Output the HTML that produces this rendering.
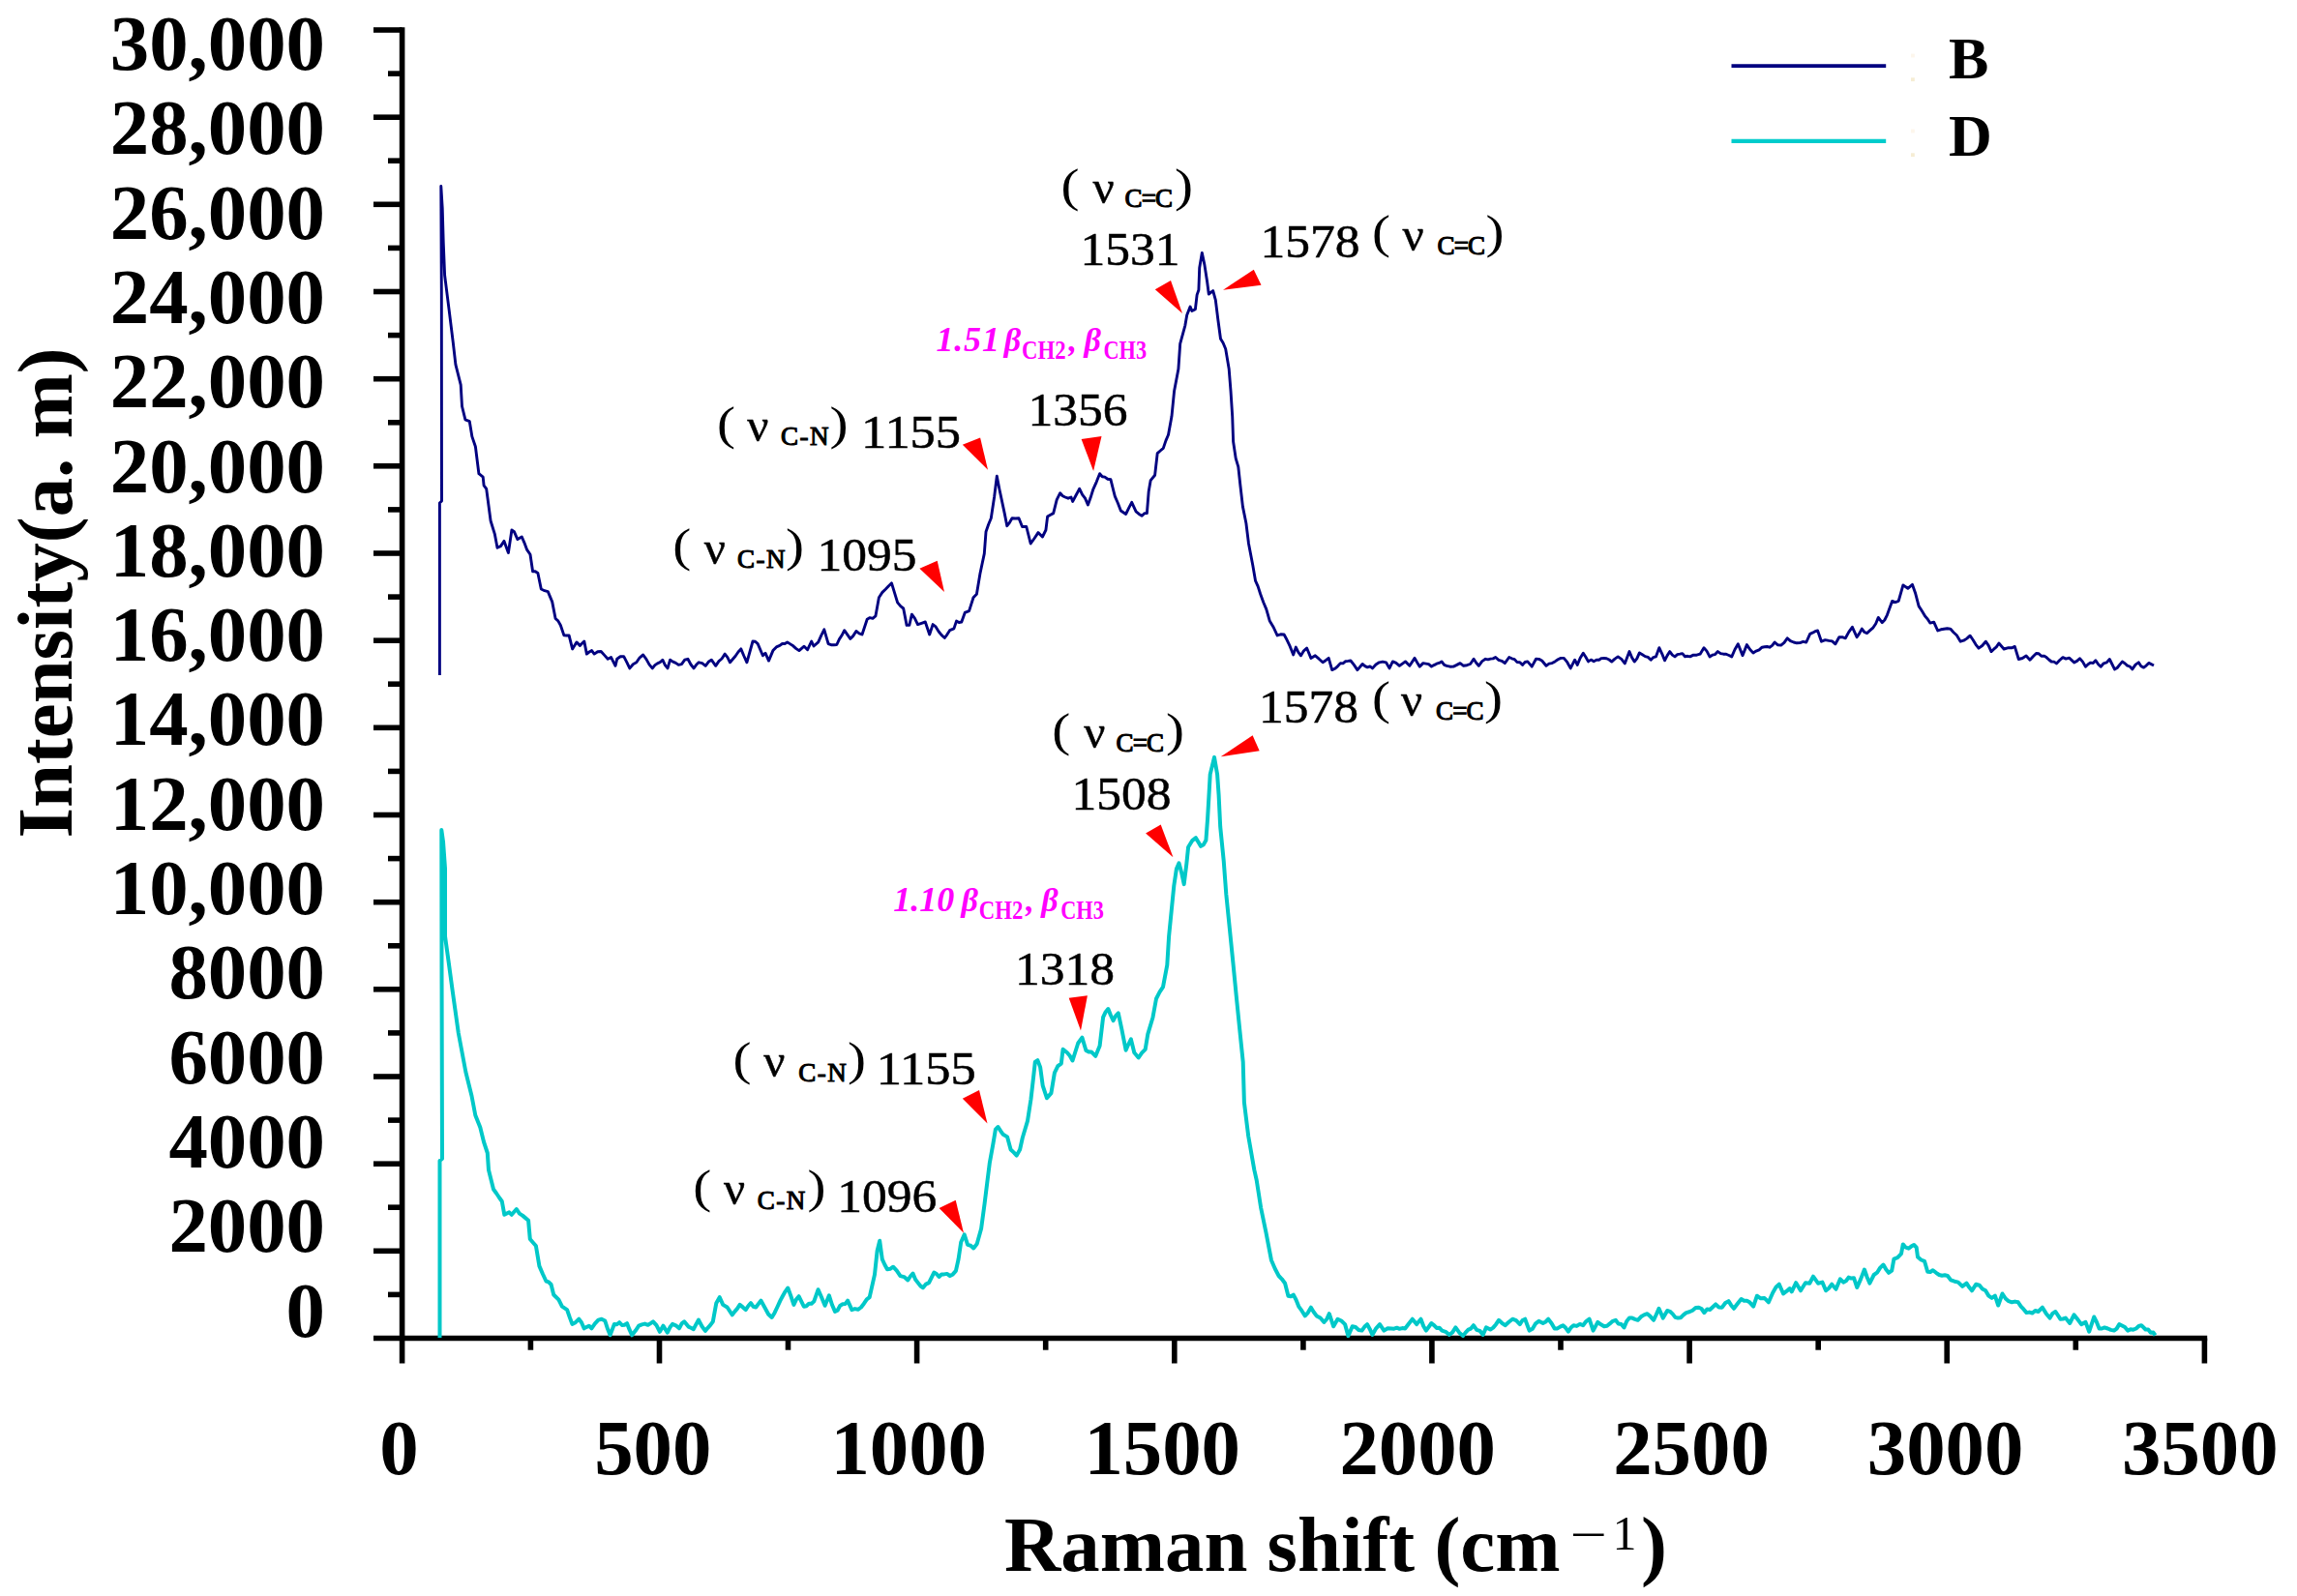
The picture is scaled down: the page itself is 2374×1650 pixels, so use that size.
<!DOCTYPE html>
<html lang="en"><head><meta charset="utf-8"><title>Raman spectra B and D</title>
<style>
html,body{margin:0;padding:0;background:#fff;}
body{width:2374px;height:1650px;overflow:hidden;}
svg{display:block;}
text{font-family:"Liberation Serif", "Times New Roman", Times, serif;fill:#000;}
.tk{font-weight:bold;font-size:80.8px;}
.an{font-size:49px;stroke:#000;stroke-width:0.5px;}
.pr{font-size:49px;}
.sub{font-size:27px;font-weight:normal;stroke:#000;stroke-width:1.1px;}
.mg{fill:#ff00ff;font-style:italic;font-weight:bold;font-size:34px;}
.mgs{fill:#ff00ff;font-style:normal;font-weight:bold;font-size:26.5px;}
.ax{stroke:#000;fill:none;}
</style></head><body>
<svg width="2374" height="1650" viewBox="0 0 2374 1650">
<rect width="2374" height="1650" fill="#fff"/>
<g class="ax" stroke-width="5.6">
<line x1="415.6" y1="28.2" x2="415.6" y2="1409.5"/>
<line x1="386" y1="1383.5" x2="2281.2" y2="1383.5"/>
<line x1="401" y1="1338.4" x2="415.6" y2="1338.4"/>
<line x1="386" y1="1293.3" x2="415.6" y2="1293.3"/>
<line x1="401" y1="1248.2" x2="415.6" y2="1248.2"/>
<line x1="386" y1="1203.2" x2="415.6" y2="1203.2"/>
<line x1="401" y1="1158.1" x2="415.6" y2="1158.1"/>
<line x1="386" y1="1113.0" x2="415.6" y2="1113.0"/>
<line x1="401" y1="1067.9" x2="415.6" y2="1067.9"/>
<line x1="386" y1="1022.8" x2="415.6" y2="1022.8"/>
<line x1="401" y1="977.8" x2="415.6" y2="977.8"/>
<line x1="386" y1="932.7" x2="415.6" y2="932.7"/>
<line x1="401" y1="887.6" x2="415.6" y2="887.6"/>
<line x1="386" y1="842.5" x2="415.6" y2="842.5"/>
<line x1="401" y1="797.4" x2="415.6" y2="797.4"/>
<line x1="386" y1="752.3" x2="415.6" y2="752.3"/>
<line x1="401" y1="707.2" x2="415.6" y2="707.2"/>
<line x1="386" y1="662.2" x2="415.6" y2="662.2"/>
<line x1="401" y1="617.1" x2="415.6" y2="617.1"/>
<line x1="386" y1="572.0" x2="415.6" y2="572.0"/>
<line x1="401" y1="526.9" x2="415.6" y2="526.9"/>
<line x1="386" y1="481.8" x2="415.6" y2="481.8"/>
<line x1="401" y1="436.8" x2="415.6" y2="436.8"/>
<line x1="386" y1="391.7" x2="415.6" y2="391.7"/>
<line x1="401" y1="346.6" x2="415.6" y2="346.6"/>
<line x1="386" y1="301.5" x2="415.6" y2="301.5"/>
<line x1="401" y1="256.4" x2="415.6" y2="256.4"/>
<line x1="386" y1="211.3" x2="415.6" y2="211.3"/>
<line x1="401" y1="166.2" x2="415.6" y2="166.2"/>
<line x1="386" y1="121.2" x2="415.6" y2="121.2"/>
<line x1="401" y1="76.1" x2="415.6" y2="76.1"/>
<line x1="386" y1="31.0" x2="415.6" y2="31.0"/>
<line x1="548.4" y1="1383.5" x2="548.4" y2="1395.7"/>
<line x1="681.5" y1="1383.5" x2="681.5" y2="1409.5"/>
<line x1="814.5" y1="1383.5" x2="814.5" y2="1395.7"/>
<line x1="947.6" y1="1383.5" x2="947.6" y2="1409.5"/>
<line x1="1080.7" y1="1383.5" x2="1080.7" y2="1395.7"/>
<line x1="1213.8" y1="1383.5" x2="1213.8" y2="1409.5"/>
<line x1="1346.9" y1="1383.5" x2="1346.9" y2="1395.7"/>
<line x1="1479.9" y1="1383.5" x2="1479.9" y2="1409.5"/>
<line x1="1613.0" y1="1383.5" x2="1613.0" y2="1395.7"/>
<line x1="1746.1" y1="1383.5" x2="1746.1" y2="1409.5"/>
<line x1="1879.2" y1="1383.5" x2="1879.2" y2="1395.7"/>
<line x1="2012.2" y1="1383.5" x2="2012.2" y2="1409.5"/>
<line x1="2145.3" y1="1383.5" x2="2145.3" y2="1395.7"/>
<line x1="2278.4" y1="1383.5" x2="2278.4" y2="1409.5"/>
</g>
<text class="tk" x="336" y="72.0" text-anchor="end">30,000</text>
<text class="tk" x="336" y="159.3" text-anchor="end">28,000</text>
<text class="tk" x="336" y="246.6" text-anchor="end">26,000</text>
<text class="tk" x="336" y="333.9" text-anchor="end">24,000</text>
<text class="tk" x="336" y="421.2" text-anchor="end">22,000</text>
<text class="tk" x="336" y="508.5" text-anchor="end">20,000</text>
<text class="tk" x="336" y="595.8" text-anchor="end">18,000</text>
<text class="tk" x="336" y="683.1" text-anchor="end">16,000</text>
<text class="tk" x="336" y="770.4" text-anchor="end">14,000</text>
<text class="tk" x="336" y="857.7" text-anchor="end">12,000</text>
<text class="tk" x="336" y="945.0" text-anchor="end">10,000</text>
<text class="tk" x="336" y="1032.3" text-anchor="end">8000</text>
<text class="tk" x="336" y="1119.6" text-anchor="end">6000</text>
<text class="tk" x="336" y="1206.9" text-anchor="end">4000</text>
<text class="tk" x="336" y="1294.2" text-anchor="end">2000</text>
<text class="tk" x="336" y="1381.5" text-anchor="end">0</text>
<text class="tk" x="412.4" y="1523.8" text-anchor="middle">0</text>
<text class="tk" x="674.8" y="1523.8" text-anchor="middle">500</text>
<text class="tk" x="939.2" y="1523.8" text-anchor="middle">1000</text>
<text class="tk" x="1201.2" y="1523.8" text-anchor="middle">1500</text>
<text class="tk" x="1465.2" y="1523.8" text-anchor="middle">2000</text>
<text class="tk" x="1748.0" y="1523.8" text-anchor="middle">2500</text>
<text class="tk" x="2010.6" y="1523.8" text-anchor="middle">3000</text>
<text class="tk" x="2273.8" y="1523.8" text-anchor="middle">3500</text>
<text class="tk" transform="translate(74,866.5) rotate(-90)" x="0" y="0">Intensity(a. m)</text>
<text class="tk" x="1038" y="1624.3">Raman shift (cm<tspan font-weight="normal" font-size="49" x="1622.7" y="1602.9" textLength="38.4" lengthAdjust="spacingAndGlyphs">−</tspan><tspan font-weight="normal" font-size="50" x="1666.5" y="1601.5">1</tspan><tspan x="1696" y="1624.3">)</tspan></text>
<line x1="1789.5" y1="68.2" x2="1949.2" y2="68.2" stroke="#000080" stroke-width="3.8"/>
<line x1="1789.5" y1="145.9" x2="1949.2" y2="145.9" stroke="#00cccc" stroke-width="4.2"/>
<text x="2014" y="81.3" font-weight="bold" font-size="62">B</text>
<text x="2014" y="161.4" font-weight="bold" font-size="62">D</text>
<rect x="1975" y="80.3" width="3.8" height="3.8" fill="#f6edd4"/>
<rect x="1975" y="158.3" width="3.8" height="3.8" fill="#f6edd4"/>
<rect x="1975" y="55.6" width="3.8" height="3.8" fill="#fdf6ec"/>
<rect x="1975" y="133.6" width="3.8" height="3.8" fill="#fdf6ec"/>
<path d="M454.4,698.0 L454.4,520.0 L456.5,518.0 L456.3,300.0 L455.8,192.5 L457.2,215.0 L458.2,250.0 L459.6,284.5 L464.0,319.4 L468.3,354.2 L470.9,376.9 L476.2,397.8 L477.5,420.0 L480.9,433.9 L485.3,435.7 L487.9,451.4 L491.4,461.8 L494.9,489.7 L499.2,493.2 L500.1,501.9 L502.7,505.4 L507.1,538.5 L511.4,552.4 L514.0,566.3 L517.5,564.6 L521.0,559.4 L525.4,571.6 L528.9,548.0 L531.5,549.8 L534.9,557.6 L539.3,555.0 L541.9,561.1 L544.5,568.1 L548.0,573.3 L550.6,590.7 L553.2,590.7 L555.9,592.5 L559.3,609.0 L562.8,610.7 L566.3,611.6 L570.7,622.1 L574.1,639.5 L576.8,641.9 L579.4,646.5 L582.9,656.9 L585.5,657.0 L588.1,656.9 L591.6,670.9 L595.9,663.9 L599.4,667.4 L603.8,663.0 L606.4,676.1 L609.0,674.0 L611.6,672.6 L614.2,676.1 L617.7,673.7 L621.2,673.5 L624.7,677.4 L628.2,681.3 L631.6,679.6 L636.0,688.3 L637.7,681.3 L641.2,678.8 L644.7,678.7 L647.8,684.6 L650.8,690.9 L654.3,686.7 L657.8,684.8 L661.2,679.8 L664.7,677.0 L667.9,681.4 L671.1,687.1 L674.3,690.9 L676.9,687.7 L679.5,685.8 L682.2,684.7 L684.8,682.2 L687.4,687.7 L690.0,690.9 L692.6,682.2 L695.5,684.1 L698.4,685.4 L701.3,687.4 L704.5,686.6 L707.7,682.2 L710.9,681.3 L714.0,687.0 L717.0,690.9 L719.6,687.3 L722.2,684.8 L725.7,685.6 L729.2,688.3 L732.2,684.3 L735.3,682.2 L739.7,688.3 L742.9,683.7 L746.0,681.0 L749.2,676.1 L751.9,679.6 L754.5,684.8 L757.3,681.5 L760.1,678.2 L763.0,674.0 L765.8,670.9 L768.8,678.0 L771.9,684.8 L778.0,663.0 L780.6,663.2 L783.2,665.6 L788.4,677.8 L791.0,675.2 L794.5,683.1 L798.9,672.6 L802.4,668.9 L805.9,667.4 L808.5,665.5 L811.1,665.5 L813.7,663.9 L816.8,665.9 L819.8,667.8 L822.9,670.6 L825.9,672.6 L828.5,670.3 L831.1,668.2 L834.6,671.7 L838.7,663.0 L841.0,668.0 L845.7,663.9 L848.8,656.8 L851.8,650.8 L856.1,665.6 L859.0,666.7 L861.9,666.7 L864.8,666.5 L867.4,660.9 L870.1,656.8 L872.7,651.7 L875.8,656.1 L878.8,660.4 L881.8,657.4 L884.9,652.5 L888.0,654.8 L891.0,656.0 L896.2,640.3 L899.1,638.6 L902.0,639.3 L904.9,636.9 L908.4,617.7 L911.9,612.4 L915.4,609.0 L918.5,605.7 L921.5,602.9 L927.6,622.9 L930.7,626.6 L933.7,629.0 L937.1,646.4 L939.8,646.4 L942.4,635.1 L945.5,639.4 L948.5,645.6 L952.4,644.3 L956.3,643.0 L960.7,656.0 L964.1,645.6 L967.1,647.9 L970.2,653.0 L973.2,656.7 L976.3,659.5 L979.0,655.8 L981.6,651.7 L985.9,649.9 L988.5,642.1 L991.1,643.5 L993.8,643.0 L997.2,633.4 L1001.6,631.6 L1006.0,617.7 L1009.4,614.2 L1012.9,593.3 L1017.3,572.4 L1019.0,549.8 L1021.6,542.3 L1024.3,535.8 L1027.7,513.2 L1030.3,492.3 L1033.0,506.2 L1038.2,530.6 L1040.8,543.7 L1043.4,540.3 L1046.0,535.8 L1049.5,536.0 L1053.0,535.8 L1056.5,544.5 L1060.8,544.5 L1065.2,562.0 L1069.1,556.5 L1073.0,550.6 L1077.4,555.0 L1080.9,548.0 L1082.6,534.1 L1085.7,532.2 L1088.7,530.6 L1092.2,516.7 L1095.7,509.7 L1098.3,512.7 L1100.9,514.0 L1104.0,515.2 L1107.0,514.0 L1108.7,518.4 L1112.2,511.8 L1115.7,505.3 L1118.6,511.3 L1121.5,515.2 L1124.4,521.9 L1127.1,514.6 L1129.7,506.2 L1133.2,498.3 L1136.6,489.7 L1139.2,492.7 L1141.8,493.1 L1144.8,495.2 L1147.9,495.7 L1152.3,513.2 L1155.3,520.0 L1158.4,528.0 L1163.6,531.5 L1166.7,525.1 L1169.7,519.3 L1174.1,528.8 L1177.2,531.4 L1180.2,533.2 L1182.8,530.7 L1185.4,530.6 L1187.2,508.0 L1189.2,496.6 L1193.6,491.3 L1196.2,468.7 L1199.2,466.0 L1202.3,463.4 L1204.9,455.6 L1207.5,449.5 L1211.0,430.3 L1213.6,404.2 L1217.9,381.6 L1219.7,355.4 L1224.9,336.3 L1226.7,325.8 L1230.1,317.1 L1231.9,321.5 L1235.4,319.7 L1237.1,304.9 L1238.9,299.7 L1239.7,277.0 L1242.3,261.4 L1244.9,273.6 L1247.6,291.0 L1249.3,304.0 L1253.7,300.6 L1256.3,310.1 L1258.9,331.0 L1261.5,350.2 L1264.1,354.5 L1266.7,360.7 L1270.2,381.6 L1272.0,404.2 L1273.7,430.3 L1274.6,456.5 L1277.2,473.9 L1279.8,482.6 L1281.8,501.0 L1284.4,523.6 L1287.9,541.0 L1290.5,562.0 L1294.8,584.6 L1297.5,600.3 L1300.1,606.1 L1302.7,614.2 L1305.8,622.7 L1308.8,629.9 L1312.3,642.1 L1316.2,648.5 L1320.1,656.9 L1323.6,655.8 L1327.1,656.0 L1330.2,661.8 L1333.2,668.2 L1336.7,676.9 L1339.3,669.1 L1341.9,674.4 L1344.5,677.8 L1347.5,672.8 L1350.6,670.0 L1354.9,680.4 L1359.3,677.8 L1363.2,681.2 L1367.1,684.8 L1370.2,682.7 L1373.2,680.4 L1376.7,692.6 L1379.6,691.3 L1382.5,688.8 L1385.4,685.6 L1388.0,685.9 L1390.7,683.7 L1393.3,683.4 L1395.9,683.0 L1399.4,687.4 L1402.9,692.6 L1408.1,686.5 L1410.7,688.6 L1413.3,689.9 L1415.9,688.9 L1418.5,690.9 L1422.0,687.0 L1425.5,684.8 L1429.0,684.1 L1432.5,684.8 L1436.0,690.9 L1439.4,683.9 L1442.9,685.4 L1446.4,688.3 L1449.5,686.1 L1452.5,683.9 L1456.9,688.3 L1462.1,680.4 L1464.7,685.0 L1467.3,689.1 L1470.8,685.6 L1473.7,686.1 L1476.6,686.6 L1479.5,689.1 L1482.1,687.6 L1484.8,686.2 L1487.4,685.4 L1490.0,683.9 L1492.6,687.3 L1495.2,688.3 L1498.7,689.2 L1502.2,689.1 L1505.7,687.4 L1509.1,685.6 L1512.6,688.3 L1516.1,687.7 L1519.6,686.5 L1523.1,681.3 L1525.7,685.3 L1528.3,688.3 L1531.8,683.6 L1535.3,681.3 L1537.9,681.9 L1540.5,681.1 L1543.1,680.9 L1545.7,679.5 L1548.9,682.3 L1552.1,683.3 L1555.3,685.6 L1559.7,679.5 L1562.5,680.8 L1565.3,681.6 L1568.0,684.6 L1570.8,684.7 L1573.6,687.4 L1576.2,684.5 L1578.8,683.9 L1583.2,689.1 L1587.5,681.3 L1590.5,681.4 L1593.6,683.0 L1598.0,688.3 L1601.0,686.1 L1604.1,685.6 L1607.1,683.9 L1610.2,681.8 L1613.2,680.4 L1616.3,680.4 L1619.8,684.7 L1623.2,690.9 L1627.6,682.2 L1630.2,687.4 L1633.2,680.3 L1636.3,675.2 L1638.9,679.2 L1641.5,683.9 L1644.3,682.1 L1647.2,683.8 L1650.0,682.3 L1652.6,682.2 L1655.2,680.6 L1657.8,680.5 L1660.4,680.7 L1663.1,682.0 L1665.7,684.1 L1669.0,681.1 L1672.2,678.9 L1675.8,681.4 L1679.3,685.9 L1684.0,673.6 L1686.6,679.8 L1689.2,684.1 L1691.8,680.8 L1694.4,674.9 L1697.4,676.7 L1700.3,678.6 L1703.2,679.4 L1706.2,682.3 L1708.8,679.6 L1711.4,678.9 L1714.8,669.7 L1717.7,675.8 L1720.5,682.8 L1723.2,677.6 L1725.8,673.6 L1728.4,677.1 L1731.0,678.9 L1733.6,676.7 L1736.2,676.2 L1738.8,675.6 L1741.5,678.7 L1744.1,678.3 L1746.7,678.9 L1750.2,677.1 L1753.6,677.2 L1757.1,676.2 L1761.0,669.7 L1764.0,673.1 L1767.0,678.9 L1769.8,677.2 L1772.6,676.6 L1775.4,673.6 L1778.3,675.6 L1781.2,676.2 L1784.0,676.2 L1786.9,677.5 L1789.8,678.9 L1793.0,671.5 L1796.3,665.8 L1801.0,677.6 L1805.4,666.6 L1808.7,671.5 L1812.0,674.9 L1815.0,673.1 L1818.1,671.8 L1821.1,669.2 L1823.7,668.8 L1826.3,668.5 L1828.9,669.2 L1831.6,667.4 L1834.2,664.0 L1837.5,666.8 L1840.7,667.1 L1844.0,664.4 L1847.2,659.8 L1850.5,662.7 L1853.8,664.0 L1857.0,664.8 L1860.3,664.6 L1863.5,663.3 L1866.8,664.0 L1870.7,655.3 L1873.3,654.2 L1876.0,652.7 L1878.6,652.0 L1882.5,663.2 L1886.4,661.6 L1890.3,662.4 L1893.6,662.9 L1896.9,665.8 L1900.8,658.7 L1904.0,658.7 L1907.3,659.8 L1910.8,653.4 L1914.4,648.3 L1919.1,658.7 L1921.7,654.9 L1924.3,650.1 L1926.9,653.5 L1929.5,654.6 L1932.8,651.6 L1936.0,648.8 L1938.7,644.7 L1941.3,638.4 L1945.2,643.6 L1947.8,641.0 L1950.4,635.8 L1955.6,621.4 L1958.9,622.6 L1962.2,621.4 L1966.9,604.9 L1971.8,608.3 L1976.5,604.4 L1979.7,613.6 L1983.1,626.6 L1986.3,631.5 L1989.6,637.1 L1992.2,639.9 L1994.8,644.1 L1998.7,643.1 L2002.7,652.0 L2006.0,650.8 L2009.2,650.3 L2012.5,649.8 L2015.7,650.1 L2019.0,653.7 L2022.3,656.7 L2026.2,663.2 L2029.5,662.2 L2032.8,660.1 L2036.1,657.2 L2039.1,661.5 L2042.0,666.3 L2045.0,670.2 L2048.7,667.5 L2052.3,663.2 L2055.2,667.3 L2058.0,673.6 L2060.6,671.2 L2063.3,668.9 L2065.9,665.0 L2071.1,671.0 L2075.8,669.7 L2079.1,669.8 L2082.3,668.4 L2086.3,681.5 L2090.2,680.5 L2094.1,678.1 L2098.0,682.3 L2101.2,678.8 L2104.5,675.5 L2107.1,675.7 L2109.8,678.3 L2112.4,678.1 L2115.0,679.6 L2117.6,682.0 L2120.2,684.0 L2122.8,684.1 L2125.4,685.9 L2128.7,682.5 L2132.0,679.6 L2135.2,681.1 L2138.5,680.2 L2143.7,684.9 L2146.6,683.4 L2149.5,680.7 L2152.5,684.1 L2155.5,689.3 L2158.1,686.7 L2160.7,685.1 L2163.3,685.5 L2165.9,682.8 L2168.6,686.8 L2171.2,689.3 L2174.2,685.8 L2177.3,684.9 L2180.3,681.5 L2185.5,691.9 L2188.1,690.5 L2190.8,687.1 L2193.4,684.1 L2196.0,685.7 L2198.6,688.1 L2201.2,689.0 L2203.8,691.9 L2207.1,687.1 L2210.3,684.9 L2212.9,688.7 L2215.6,690.1 L2218.2,688.1 L2220.8,685.4 L2226.0,688.0" fill="none" stroke="#000080" stroke-width="2.9" stroke-linejoin="round" stroke-linecap="butt"/>
<path d="M454.5,1383.0 L454.5,1200.0 L457.0,1198.0 L456.5,1000.0 L456.3,858.0 L458.0,870.0 L460.0,898.0 L460.0,968.0 L463.8,995.5 L467.5,1023.0 L473.8,1068.0 L481.3,1108.0 L487.5,1133.0 L491.3,1153.0 L496.3,1165.5 L500.0,1180.5 L503.8,1192.0 L505.0,1209.5 L510.0,1229.5 L512.9,1233.5 L515.9,1238.0 L518.8,1242.0 L521.3,1255.8 L526.3,1253.3 L528.8,1255.8 L533.8,1250.0 L536.9,1254.6 L540.0,1256.6 L543.0,1259.1 L546.1,1261.8 L547.8,1281.0 L550.8,1284.5 L553.9,1288.0 L557.4,1308.9 L560.9,1317.0 L564.4,1324.5 L567.0,1325.3 L569.6,1328.0 L572.2,1338.5 L577.4,1343.7 L580.9,1350.7 L583.5,1352.4 L586.1,1354.1 L588.8,1361.9 L591.4,1368.9 L594.8,1367.2 L598.3,1363.7 L601.0,1367.3 L603.6,1373.3 L608.8,1370.7 L611.4,1373.3 L614.9,1368.4 L618.4,1364.6 L621.8,1363.8 L625.3,1365.5 L628.0,1373.8 L630.6,1380.3 L634.9,1368.9 L637.5,1369.3 L640.1,1367.2 L642.8,1369.9 L645.4,1369.7 L648.0,1368.1 L650.6,1374.7 L653.2,1380.3 L656.7,1375.8 L660.2,1370.7 L663.4,1369.4 L666.5,1368.6 L669.7,1369.8 L672.4,1368.1 L675.0,1366.3 L678.5,1370.2 L681.9,1376.8 L685.4,1370.7 L689.8,1377.6 L692.4,1372.3 L695.0,1368.9 L698.5,1370.3 L702.0,1373.3 L704.6,1368.4 L707.2,1366.3 L711.5,1371.6 L714.1,1372.8 L716.8,1374.2 L719.4,1369.2 L722.0,1364.6 L725.5,1371.3 L728.9,1375.9 L731.5,1372.8 L734.2,1369.9 L736.8,1366.3 L740.3,1347.2 L743.7,1341.1 L747.2,1348.9 L751.6,1351.5 L756.8,1359.4 L759.4,1355.9 L762.0,1352.9 L764.6,1348.9 L767.7,1351.4 L770.7,1354.1 L773.4,1350.0 L776.0,1347.2 L778.6,1350.8 L781.2,1351.5 L786.4,1344.6 L790.8,1352.4 L794.2,1358.7 L797.7,1362.0 L800.6,1357.2 L803.5,1351.0 L806.4,1344.6 L809.0,1339.7 L811.7,1335.1 L814.3,1331.5 L817.3,1339.6 L820.4,1348.9 L823.0,1343.3 L825.6,1340.2 L830.8,1350.7 L833.4,1350.2 L836.0,1347.8 L838.7,1347.8 L841.3,1345.4 L845.6,1333.2 L849.1,1341.2 L852.6,1349.8 L856.9,1339.3 L860.0,1349.0 L863.0,1355.9 L865.6,1354.7 L868.2,1349.9 L870.9,1348.2 L873.5,1348.1 L876.1,1344.6 L880.4,1354.1 L883.6,1353.1 L886.8,1353.8 L890.0,1351.5 L892.9,1347.7 L895.8,1343.3 L898.7,1341.1 L904.0,1317.6 L906.6,1293.2 L909.2,1282.7 L911.8,1301.9 L914.4,1307.5 L917.0,1312.3 L920.0,1311.8 L923.1,1309.7 L926.8,1313.7 L930.5,1319.1 L934.4,1320.1 L938.3,1323.5 L940.9,1319.5 L943.5,1316.5 L946.1,1322.7 L948.7,1326.1 L951.4,1329.5 L954.0,1331.3 L957.0,1327.6 L960.1,1326.1 L965.3,1315.6 L967.9,1317.0 L970.5,1320.0 L973.1,1317.5 L975.7,1317.4 L978.8,1316.9 L981.8,1319.1 L984.8,1317.4 L987.9,1313.9 L990.6,1301.7 L993.2,1284.3 L996.7,1276.4 L1000.1,1286.9 L1003.2,1287.7 L1006.2,1290.4 L1009.7,1286.0 L1014.1,1270.3 L1017.6,1244.2 L1020.2,1223.3 L1022.8,1202.4 L1026.3,1183.2 L1028.9,1167.6 L1031.5,1165.0 L1034.1,1169.1 L1036.7,1172.8 L1041.1,1175.4 L1044.6,1188.5 L1047.7,1191.4 L1050.7,1194.6 L1054.1,1188.5 L1056.8,1176.3 L1062.0,1158.9 L1065.5,1136.2 L1068.1,1113.6 L1069.8,1097.9 L1072.4,1096.1 L1075.1,1103.1 L1077.7,1122.3 L1082.0,1135.3 L1086.4,1130.1 L1089.9,1109.2 L1093.3,1102.2 L1096.8,1099.6 L1098.6,1084.8 L1102.9,1088.3 L1105.7,1091.5 L1108.5,1096.5 L1114.2,1078.5 L1118.4,1072.6 L1122.4,1086.0 L1125.2,1087.4 L1127.9,1087.4 L1132.3,1091.8 L1136.6,1081.3 L1140.1,1051.7 L1142.7,1046.2 L1145.3,1043.0 L1147.9,1049.5 L1150.6,1055.2 L1153.2,1050.1 L1155.8,1047.4 L1159.3,1063.9 L1163.6,1085.7 L1166.2,1079.8 L1168.9,1074.4 L1172.3,1088.3 L1176.7,1093.5 L1180.2,1088.3 L1183.7,1084.8 L1186.3,1069.1 L1191.5,1051.7 L1195.0,1032.5 L1198.5,1025.7 L1202.0,1020.3 L1206.3,997.7 L1208.1,968.1 L1210.7,941.9 L1213.3,915.8 L1215.9,898.4 L1218.5,892.3 L1221.1,901.9 L1223.7,914.1 L1226.3,893.2 L1228.1,875.7 L1232.4,868.8 L1235.9,866.2 L1241.1,874.9 L1243.8,873.3 L1246.4,868.8 L1248.1,846.1 L1249.5,821.9 L1250.7,800.6 L1255.0,782.9 L1258.1,800.6 L1259.6,821.9 L1261.2,854.8 L1264.7,889.7 L1267.3,924.5 L1270.8,959.4 L1274.3,994.2 L1277.7,1029.1 L1281.2,1063.9 L1284.7,1098.0 L1285.9,1139.7 L1290.2,1174.5 L1296.3,1209.4 L1298.7,1220.0 L1303.1,1248.3 L1308.5,1274.4 L1313.9,1302.7 L1317.8,1311.8 L1321.6,1319.0 L1324.8,1322.3 L1328.1,1326.7 L1331.4,1339.7 L1334.1,1340.3 L1336.8,1338.6 L1339.5,1343.7 L1342.2,1350.6 L1345.5,1355.2 L1348.8,1360.4 L1351.8,1357.1 L1354.9,1351.7 L1357.8,1356.5 L1360.7,1360.4 L1364.6,1362.5 L1368.4,1366.9 L1371.1,1364.0 L1373.8,1358.2 L1378.2,1371.3 L1382.5,1363.7 L1386.3,1365.5 L1390.1,1369.1 L1393.4,1381.1 L1397.7,1371.3 L1401.0,1372.0 L1404.2,1375.0 L1407.5,1375.6 L1410.2,1371.8 L1413.0,1369.1 L1415.7,1373.9 L1418.4,1380.0 L1422.2,1373.3 L1426.0,1369.1 L1430.4,1375.6 L1434.2,1373.3 L1438.0,1373.5 L1440.8,1373.7 L1443.7,1372.7 L1446.5,1373.8 L1449.4,1373.1 L1452.2,1373.5 L1456.0,1368.5 L1459.8,1363.7 L1464.1,1369.1 L1468.5,1363.7 L1471.2,1371.0 L1473.9,1375.6 L1476.7,1371.8 L1479.4,1368.0 L1482.1,1370.1 L1484.8,1372.9 L1487.6,1372.7 L1490.3,1375.6 L1494.1,1376.8 L1497.9,1380.0 L1501.2,1377.4 L1504.4,1372.4 L1508.2,1377.7 L1512.0,1381.1 L1514.7,1377.6 L1517.5,1374.7 L1520.2,1373.6 L1522.9,1370.2 L1526.2,1374.8 L1529.4,1375.8 L1532.7,1380.0 L1536.0,1372.4 L1540.3,1374.5 L1543.2,1372.6 L1546.1,1369.2 L1549.0,1364.8 L1552.3,1367.8 L1555.6,1370.2 L1559.4,1366.7 L1563.2,1363.7 L1567.0,1365.2 L1570.8,1369.1 L1573.5,1365.0 L1576.2,1363.7 L1580.6,1375.6 L1583.9,1373.7 L1587.1,1368.3 L1590.4,1365.8 L1594.7,1368.0 L1597.5,1366.5 L1600.2,1363.7 L1603.5,1367.9 L1606.7,1373.5 L1609.6,1373.4 L1612.5,1371.6 L1615.4,1370.2 L1618.2,1372.8 L1620.9,1376.7 L1623.6,1372.5 L1626.3,1370.2 L1629.6,1370.9 L1632.8,1368.9 L1636.1,1370.2 L1639.3,1366.1 L1642.6,1363.7 L1646.6,1375.6 L1651.3,1366.9 L1654.6,1369.3 L1657.9,1371.3 L1660.9,1370.7 L1663.8,1368.4 L1666.8,1365.8 L1669.8,1364.8 L1672.7,1368.6 L1675.6,1369.0 L1678.5,1372.4 L1681.2,1366.0 L1684.0,1362.6 L1686.9,1362.6 L1689.8,1363.9 L1692.7,1364.8 L1696.0,1361.3 L1699.2,1359.4 L1702.5,1358.2 L1705.8,1361.1 L1709.0,1364.8 L1711.8,1359.0 L1714.5,1352.8 L1718.8,1362.6 L1723.2,1355.0 L1725.9,1355.8 L1728.7,1358.4 L1731.4,1361.9 L1734.1,1362.6 L1737.0,1362.2 L1739.9,1359.4 L1742.8,1357.1 L1746.0,1356.3 L1749.3,1354.7 L1752.5,1352.0 L1755.8,1351.7 L1758.5,1353.0 L1761.3,1357.1 L1764.3,1353.5 L1767.2,1354.0 L1770.2,1351.2 L1773.2,1348.4 L1776.5,1351.4 L1779.8,1351.7 L1783.2,1347.0 L1786.5,1345.2 L1789.2,1349.4 L1792.0,1352.8 L1795.8,1347.8 L1799.6,1343.0 L1802.5,1344.8 L1805.4,1344.7 L1808.3,1346.3 L1812.2,1350.6 L1815.9,1339.7 L1819.7,1342.3 L1823.5,1341.9 L1827.9,1346.3 L1832.2,1336.5 L1835.5,1330.8 L1838.8,1327.7 L1843.1,1337.5 L1846.4,1334.9 L1849.7,1332.1 L1851.8,1335.4 L1856.2,1326.2 L1861.0,1334.3 L1866.0,1326.2 L1870.3,1326.7 L1874.0,1319.7 L1879.0,1326.7 L1883.4,1325.6 L1887.1,1334.3 L1890.2,1331.7 L1893.2,1327.7 L1897.5,1332.8 L1901.9,1322.3 L1905.2,1325.6 L1907.9,1324.3 L1910.6,1320.6 L1913.3,1321.6 L1916.0,1321.2 L1919.3,1331.0 L1923.1,1322.4 L1926.9,1312.5 L1929.7,1320.5 L1932.4,1326.7 L1936.7,1318.0 L1940.0,1315.7 L1943.2,1310.6 L1946.5,1307.5 L1949.2,1312.2 L1952.0,1315.8 L1955.2,1313.6 L1957.4,1301.6 L1961.2,1300.1 L1965.0,1296.2 L1966.8,1286.4 L1969.7,1289.7 L1972.6,1290.7 L1975.3,1288.6 L1978.1,1287.0 L1980.7,1289.7 L1982.0,1299.5 L1985.5,1302.5 L1989.0,1303.8 L1992.2,1314.7 L1995.0,1315.0 L1997.7,1313.2 L2001.0,1315.8 L2004.2,1318.0 L2007.1,1318.7 L2010.0,1318.3 L2012.9,1319.0 L2016.2,1323.4 L2020.0,1324.7 L2023.8,1325.6 L2028.2,1329.9 L2032.5,1326.7 L2035.2,1330.8 L2038.0,1334.3 L2042.3,1327.7 L2045.6,1328.6 L2048.8,1332.5 L2052.1,1334.3 L2055.3,1339.6 L2058.6,1341.9 L2061.9,1339.7 L2065.2,1349.5 L2069.5,1337.5 L2072.8,1342.5 L2076.0,1345.2 L2079.3,1346.3 L2082.5,1345.6 L2085.8,1346.3 L2088.7,1350.6 L2091.6,1353.7 L2094.5,1357.1 L2097.5,1356.6 L2100.5,1357.6 L2103.5,1355.0 L2106.5,1356.0 L2110.9,1351.7 L2114.7,1357.9 L2118.5,1362.6 L2121.4,1357.9 L2124.4,1356.0 L2129.4,1363.7 L2132.1,1363.5 L2134.8,1362.6 L2139.2,1368.0 L2143.5,1359.3 L2147.3,1364.1 L2151.1,1369.1 L2155.5,1366.9 L2159.2,1376.7 L2164.2,1361.5 L2166.9,1366.7 L2169.6,1373.5 L2172.3,1373.5 L2175.1,1372.4 L2178.4,1373.5 L2181.6,1374.9 L2184.9,1375.6 L2187.6,1373.6 L2190.3,1369.1 L2193.2,1370.5 L2196.1,1372.0 L2199.0,1375.6 L2201.9,1374.3 L2204.8,1374.7 L2207.7,1373.5 L2210.4,1371.0 L2213.2,1370.2 L2217.5,1374.5 L2220.2,1374.5 L2222.8,1377.8 L2225.5,1377.6 L2227.5,1380.5" fill="none" stroke="#00c8c8" stroke-width="4.0" stroke-linejoin="round" stroke-linecap="butt"/>
<polygon points="994.8,459.7 1013.1,452.6 1021.0,485.8" fill="#ff0000"/>
<polygon points="1117.6,453.9 1138.5,451.1 1130.1,487.1" fill="#ff0000"/>
<polygon points="950.4,587.7 968.7,579.8 976.0,612.0" fill="#ff0000"/>
<polygon points="1193.8,299.2 1210.0,290.1 1222.0,324.0" fill="#ff0000"/>
<polygon points="1264.1,299.8 1295.8,278.7 1303.5,294.8" fill="#ff0000"/>
<polygon points="1261.7,782.3 1294.6,760.3 1301.7,776.2" fill="#ff0000"/>
<polygon points="1184.1,861.6 1199.7,852.6 1212.4,886.3" fill="#ff0000"/>
<polygon points="1104.7,1031.8 1123.9,1029.2 1117.0,1065.4" fill="#ff0000"/>
<polygon points="994.8,1135.8 1012.0,1127.0 1020.5,1161.4" fill="#ff0000"/>
<polygon points="970.6,1249.0 987.7,1240.8 996.0,1274.7" fill="#ff0000"/>
<text class="pr" x="741.0" y="453.5" textLength="19" lengthAdjust="spacingAndGlyphs">(</text>
<text class="an" x="772.2" y="455.7" font-size="42" stroke-width="1.6">ν</text>
<text class="sub" x="807.0" y="460.0" textLength="49.5" lengthAdjust="spacing">C-N</text>
<text class="pr" x="857.6" y="453.5" textLength="19" lengthAdjust="spacingAndGlyphs">)</text>
<text class="an" x="890.1" y="463.0" textLength="103" lengthAdjust="spacingAndGlyphs">1155</text>
<text class="an" x="1062.6" y="440.0" textLength="103" lengthAdjust="spacingAndGlyphs">1356</text>
<text class="pr" x="695.3" y="580.3" textLength="19" lengthAdjust="spacingAndGlyphs">(</text>
<text class="an" x="727.8" y="582.5" font-size="42" stroke-width="1.6">ν</text>
<text class="sub" x="761.9" y="586.8" textLength="49.5" lengthAdjust="spacing">C-N</text>
<text class="pr" x="811.9" y="580.3" textLength="19" lengthAdjust="spacingAndGlyphs">)</text>
<text class="an" x="844.4" y="589.8" textLength="103" lengthAdjust="spacingAndGlyphs">1095</text>
<text class="pr" x="1096.4" y="207.5" textLength="19" lengthAdjust="spacingAndGlyphs">(</text>
<text class="an" x="1129.5" y="209.7" font-size="42" stroke-width="1.6">ν</text>
<text class="sub" x="1162.6" y="214.0" textLength="49.5" lengthAdjust="spacing">C=C</text>
<text class="pr" x="1214.0" y="207.5" textLength="19" lengthAdjust="spacingAndGlyphs">)</text>
<text class="an" x="1116.6" y="274.3" textLength="103" lengthAdjust="spacingAndGlyphs">1531</text>
<text class="an" x="1302.5" y="265.8" textLength="103" lengthAdjust="spacingAndGlyphs">1578</text>
<text class="pr" x="1417.9" y="256.3" textLength="19" lengthAdjust="spacingAndGlyphs">(</text>
<text class="an" x="1449.5" y="258.5" font-size="42" stroke-width="1.6">ν</text>
<text class="sub" x="1485.6" y="262.8" textLength="49.5" lengthAdjust="spacing">C=C</text>
<text class="pr" x="1535.5" y="256.3" textLength="19" lengthAdjust="spacingAndGlyphs">)</text>
<text class="an" x="1301.0" y="747.2" textLength="103" lengthAdjust="spacingAndGlyphs">1578</text>
<text class="pr" x="1417.9" y="737.7" textLength="19" lengthAdjust="spacingAndGlyphs">(</text>
<text class="an" x="1447.9" y="739.9" font-size="42" stroke-width="1.6">ν</text>
<text class="sub" x="1484.1" y="744.2" textLength="49.5" lengthAdjust="spacing">C=C</text>
<text class="pr" x="1534.0" y="737.7" textLength="19" lengthAdjust="spacingAndGlyphs">)</text>
<text class="pr" x="1087.2" y="770.5" textLength="19" lengthAdjust="spacingAndGlyphs">(</text>
<text class="an" x="1120.3" y="772.7" font-size="42" stroke-width="1.6">ν</text>
<text class="sub" x="1153.5" y="777.0" textLength="49.5" lengthAdjust="spacing">C=C</text>
<text class="pr" x="1204.9" y="770.5" textLength="19" lengthAdjust="spacingAndGlyphs">)</text>
<text class="an" x="1107.5" y="836.5" textLength="103" lengthAdjust="spacingAndGlyphs">1508</text>
<text class="an" x="1049.0" y="1017.9" textLength="103" lengthAdjust="spacingAndGlyphs">1318</text>
<text class="pr" x="757.5" y="1111.2" textLength="19" lengthAdjust="spacingAndGlyphs">(</text>
<text class="an" x="789.2" y="1113.4" font-size="42" stroke-width="1.6">ν</text>
<text class="sub" x="825.3" y="1117.7" textLength="49.5" lengthAdjust="spacing">C-N</text>
<text class="pr" x="875.9" y="1111.2" textLength="19" lengthAdjust="spacingAndGlyphs">)</text>
<text class="an" x="905.8" y="1120.7" textLength="103" lengthAdjust="spacingAndGlyphs">1155</text>
<text class="pr" x="716.2" y="1243.1" textLength="19" lengthAdjust="spacingAndGlyphs">(</text>
<text class="an" x="748.1" y="1245.3" font-size="42" stroke-width="1.6">ν</text>
<text class="sub" x="782.8" y="1249.6" textLength="49.5" lengthAdjust="spacing">C-N</text>
<text class="pr" x="834.6" y="1243.1" textLength="19" lengthAdjust="spacingAndGlyphs">)</text>
<text class="an" x="865.3" y="1252.6" textLength="103" lengthAdjust="spacingAndGlyphs">1096</text>
<text class="mg" x="967.5" y="363.3"><tspan font-size="36" letter-spacing="0.8">1.51</tspan> <tspan x="1037.7">β</tspan><tspan class="mgs" x="1056.0" y="370.6" textLength="45.5" lengthAdjust="spacingAndGlyphs">CH2</tspan><tspan x="1104.5" y="363.3">, </tspan><tspan x="1120.5">β</tspan><tspan class="mgs" x="1140.5" y="370.6" textLength="44.5" lengthAdjust="spacingAndGlyphs">CH3</tspan></text>
<text class="mg" x="923.3" y="942.3"><tspan font-size="36" letter-spacing="0">1.10</tspan> <tspan x="993.5">β</tspan><tspan class="mgs" x="1011.8" y="949.6" textLength="45.5" lengthAdjust="spacingAndGlyphs">CH2</tspan><tspan x="1060.3" y="942.3">, </tspan><tspan x="1076.3">β</tspan><tspan class="mgs" x="1096.3" y="949.6" textLength="44.5" lengthAdjust="spacingAndGlyphs">CH3</tspan></text>
</svg></body></html>
